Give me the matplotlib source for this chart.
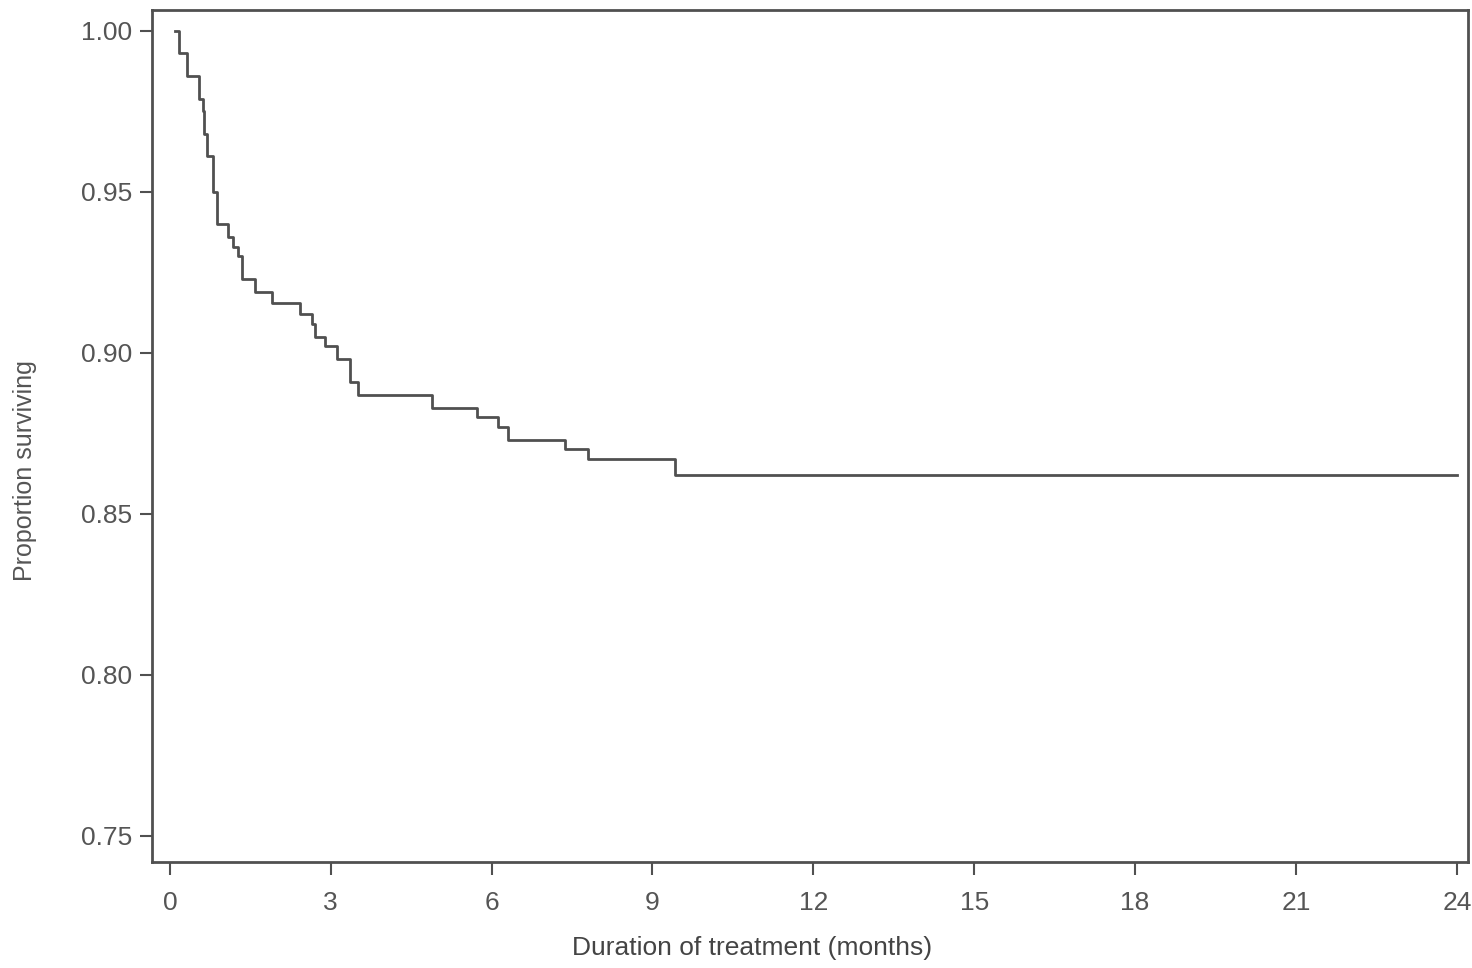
import numpy as np
from matplotlib import pyplot as plt

plt.rcParams['font.family'] = ['Liberation Sans', 'DejaVu Sans']

# Kaplan-Meier steps: time (months), survival after the drop
event_months = [0.10, 0.17, 0.32, 0.55, 0.62, 0.64, 0.69, 0.80, 0.88, 1.08, 1.17, 1.27,
                1.35, 1.59, 1.90, 2.43, 2.65, 2.70, 2.90, 3.12, 3.36, 3.50, 4.89,
                5.73, 6.12, 6.30, 7.37, 7.80, 9.42, 24.0]
survival = [1.000, 0.993, 0.986, 0.979, 0.975, 0.968, 0.961, 0.950, 0.940, 0.936, 0.933, 0.930,
            0.923, 0.919, 0.9155, 0.912, 0.909, 0.905, 0.902, 0.898, 0.891, 0.887, 0.883,
            0.880, 0.877, 0.873, 0.870, 0.867, 0.862, 0.862]

x_ticks = [0, 3, 6, 9, 12, 15, 18, 21, 24]
y_ticks = [0.75, 0.80, 0.85, 0.90, 0.95, 1.00]

fig = plt.figure(figsize=(14.72, 9.68), dpi=100)
ax = fig.add_axes([0.103, 0.11, 0.894, 0.88])

ax.step(event_months, survival, where="post", color="#505050", linewidth=2.0)

ax.set_xlim(-0.34, 24.2)
ax.set_ylim(0.742, 1.0066)
ax.set_xticks(x_ticks)
ax.set_xticklabels([str(t) for t in x_ticks])
ax.set_yticks(y_ticks)
ax.set_yticklabels([f"{t:.2f}" for t in y_ticks])

for s in ax.spines.values():
    s.set_color("#505050")
    s.set_linewidth(2)

ax.tick_params(direction="out", length=9, width=1.5, colors="#505050",
               labelsize=19, labelcolor="#555555", pad=5)
ax.tick_params(axis="x", pad=12)

ax.set_xlabel("Duration of treatment (months)", fontsize=19, color="#444444")
ax.set_ylabel("Proportion surviving", fontsize=18, color="#555555")
ax.xaxis.set_label_coords(0.456, -0.088)
ax.yaxis.set_label_coords(-0.087, 0.459)

fig.savefig("out.png", dpi=100)
